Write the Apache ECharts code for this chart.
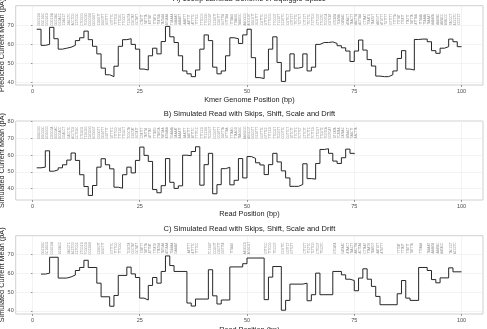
<!DOCTYPE html>
<html>
<head>
<meta charset="utf-8">
<script src="https://cdn.jsdelivr.net/npm/echarts@6.0.0/dist/echarts.min.js"></script>
<style>
html, body { margin: 0; padding: 0; background: #fff; }
#chart { width: 487px; height: 329px; }
</style>
</head>
<body>
<div id="chart"></div>
<script>
// first bases of the lambda phage genome, used for the kmer labels
const genome = 'GGGCGGCGACCTCGCGGGTTTTCGCTATTTATGAAAATTTTCCGGTTTAAGGCGTTTCCGTTCTTCTTCGTCATAACTTAATGTTTTTATTTAAAATACCCTCTGAAAAGAAAGGAAACG'
const kmerSize = 6

// A) predicted current per genome position 1..100
const genomeValues = [
  68, 59.5, 60, 69, 63, 57.5, 58, 58.5, 59.5, 62,
  63.5, 67, 62.5, 59, 55, 47.5, 44, 43, 48.5, 59,
  62.5, 63, 60, 57.5, 47, 46.5, 54, 58, 55, 61.5,
  69.5, 64, 61, 54, 46, 44.5, 43, 46.5, 57.5, 65,
  62, 48, 44.5, 46, 54, 63.5, 63, 60.5, 65, 68,
  53, 42.5, 42, 46.5, 57.5, 64, 50.5, 40.5, 46, 55,
  47.5, 48, 55, 46, 48, 60, 61, 61, 61.3, 60.5,
  59.3, 58.2, 56.5, 51, 56.5, 62.3, 57, 52, 48.6, 43.3,
  43, 43, 44, 46, 52.6, 56.7, 47, 46.5, 62.6, 62.8,
  62.8, 61.4, 56.7, 55.3, 58, 58.8, 62.8, 61.4, 58.8, 58.8
]

// B) simulated read, read position 1..75
const readValues = [
  52.4, 52.8, 62.5, 50.4, 51.2, 52.4, 54.2, 57, 61.2, 56.8,
  48.3, 41.3, 36, 41.9, 52.8, 57.8, 54.2, 51.8, 40.9, 40.3,
  48.3, 52.8, 49.4, 56.8, 64.7, 59.8, 56.2, 39.5, 37.6, 41.8,
  57.9, 43.8, 40.2, 41.7, 59.9, 59.6, 62.1, 64.9, 42.1, 54.3,
  61, 37, 42.4, 51.9, 52.7, 42.3, 45, 57.9, 46.4, 59.1,
  58, 55.4, 54.1, 48.4, 54.3, 61, 55.9, 50.6, 46.4, 41.4,
  41.4, 42.5, 54.8, 46, 45.7, 55, 63.3, 63.7, 61, 56.4,
  55, 58.4, 63.5, 61, 60.5
]

// C) simulated read events placed on positions (start of each event, last = end)
const eventPos = [
  2, 3, 4, 6, 8, 9, 10, 11, 12, 13, 15, 16, 18, 19, 20, 22, 23, 24, 25, 26,
  27, 28, 29, 30, 31, 32, 33, 36, 37, 38, 41, 42, 43, 44, 46, 49, 50, 54, 55, 56,
  58, 59, 60, 63, 64, 65, 66, 67, 70, 72, 73, 74, 75, 76, 77, 78, 79, 80, 81, 85,
  86, 87, 88, 90, 92, 93, 94, 95, 97, 98, 100
]
const eventValues = [
  59.5, 60, 68.4, 57.4, 58, 59, 61.4, 63, 66.8, 63, 54.7, 47.5, 42.5, 48.2, 58.8, 63.2, 59.6, 57.7, 46.8, 45.8,
  53.5, 57.7, 54.7, 60.9, 69.1, 64, 60.9, 44.2, 42.6, 46.3, 61.8, 48, 43.7, 45.8, 63.3, 65, 68, 46, 57.9, 63.5,
  40.4, 45.6, 54.2, 54.7, 45.4, 48.6, 60, 48.6, 60.9, 59.1, 56.8, 56.1, 50.7, 57.4, 62.3, 56.8, 53, 47.7, 43.3, 49.1,
  56.1, 46.8, 45.6, 63, 61.4, 56.6, 54.9, 57.5, 62.8, 60.7, 60.7
]

const xTicks = [0, 25, 50, 75, 100]
const yTicksA = [40, 50, 60, 70]
const yTicksB = [40, 50, 60, 70, 80]
const yTicksC = [40, 50, 60, 70]
const labelLevel = 73.2

const kmerAt = p => genome.substr(p - 1, kmerSize)
const font = 'Liberation Sans, Arial, sans-serif'

const chart = echarts.init(document.getElementById('chart'))

function xAxis(gridIndex, name, gap) {
  return {
    gridIndex,
    type: 'value',
    min: -3.9,
    max: 105,
    name,
    nameLocation: 'middle',
    nameGap: gap,
    nameMoveOverlap: false,
    nameTextStyle: { fontSize: 7.3, color: '#1a1a1a', fontFamily: font },
    axisLine: { show: false },
    axisTick: { show: true, length: 2, customValues: xTicks, lineStyle: { color: '#555', width: 0.6 } },
    axisLabel: { customValues: xTicks, fontSize: 5.5, color: '#4d4d4d', margin: 3.5, fontFamily: font },
    splitLine: { show: true, lineStyle: { color: '#ebebeb', width: 0.6 } }
  }
}

function yAxis(gridIndex, min, max, ticks, name) {
  return {
    gridIndex,
    type: 'value',
    min,
    max,
    name,
    nameLocation: 'middle',
    nameGap: 10,
    nameMoveOverlap: false,
    nameTextStyle: { fontSize: 7.3, color: '#1a1a1a', fontFamily: font },
    axisLine: { show: false },
    axisTick: { show: true, length: 1.5, customValues: ticks, lineStyle: { color: '#555', width: 0.6 } },
    axisLabel: { customValues: ticks, fontSize: 5.5, color: '#4d4d4d', margin: 2, fontFamily: font },
    splitLine: { show: true, lineStyle: { color: '#ebebeb', width: 0.6 } }
  }
}

function stepLine(idx, data) {
  return {
    type: 'line',
    xAxisIndex: idx,
    yAxisIndex: idx,
    step: 'end',
    data,
    symbol: 'none',
    silent: true,
    animation: false,
    lineStyle: { color: '#262626', width: 1 }
  }
}

function kmerLabels(idx, data) {
  return {
    type: 'scatter',
    xAxisIndex: idx,
    yAxisIndex: idx,
    data,
    symbolSize: 0,
    silent: true,
    animation: false,
    label: {
      show: true,
      position: 'inside',
      rotate: 90,
      formatter: p => p.data[2],
      fontSize: 2.8,
      color: '#6b6b6b',
      fontFamily: font
    }
  }
}

const lineA = genomeValues.map((v, i) => [i + 1, v])
const labelsA = genomeValues.slice(0, 99).map((v, i) => [i + 1.5, labelLevel, kmerAt(i + 1)])
const lineB = readValues.map((v, i) => [i + 1, v])
const labelsB = readValues.map((v, i) => [i + 1.5, labelLevel, kmerAt(i + 1)])
const lineC = eventPos.map((p, i) => [p, eventValues[i]])
const labelsC = eventPos.slice(0, -1).map(p => [p + 0.5, labelLevel, kmerAt(p)])

const titles = [
  ['A) 100bp Lambda Genome in Squiggle Space', -1.5],
  ['B) Simulated Read with Skips, Shift, Scale and Drift', 113.7],
  ['C) Simulated Read with Skips, Shift, Scale and Drift', 229]
]

const gridBase = { left: 15.7, right: 4, show: true, borderColor: '#c4c4c4', borderWidth: 0.8, containLabel: false, outerBoundsMode: 'none' }

chart.setOption({
  animation: false,
  grid: [
    Object.assign({ top: 5.7, height: 79.3 }, gridBase),
    Object.assign({ top: 121, height: 79 }, gridBase),
    Object.assign({ top: 235.7, height: 78.3 }, gridBase)
  ],
  xAxis: [
    xAxis(0, 'Kmer Genome Position (bp)', 11),
    xAxis(1, 'Read Position (bp)', 10.5),
    xAxis(2, 'Read Position (bp)', 12)
  ],
  yAxis: [
    yAxis(0, 38.6, 80.4, yTicksA, 'Predicted Current Mean (pA)'),
    yAxis(1, 33.3, 80.2, yTicksB, 'Simulated Current Mean (pA)'),
    yAxis(2, 38.4, 79.8, yTicksC, 'Simulated Current Mean (pA)')
  ],
  graphic: titles.map(t => ({
    type: 'text',
    x: 249.4,
    y: t[1],
    style: {
      text: t[0],
      textAlign: 'center',
      textVerticalAlign: 'middle',
      fontSize: 7.5,
      fontFamily: font,
      fill: '#1a1a1a'
    }
  })),
  series: [
    stepLine(0, lineA),
    kmerLabels(0, labelsA),
    stepLine(1, lineB),
    kmerLabels(1, labelsB),
    stepLine(2, lineC),
    kmerLabels(2, labelsC)
  ]
})
</script>
</body>
</html>
